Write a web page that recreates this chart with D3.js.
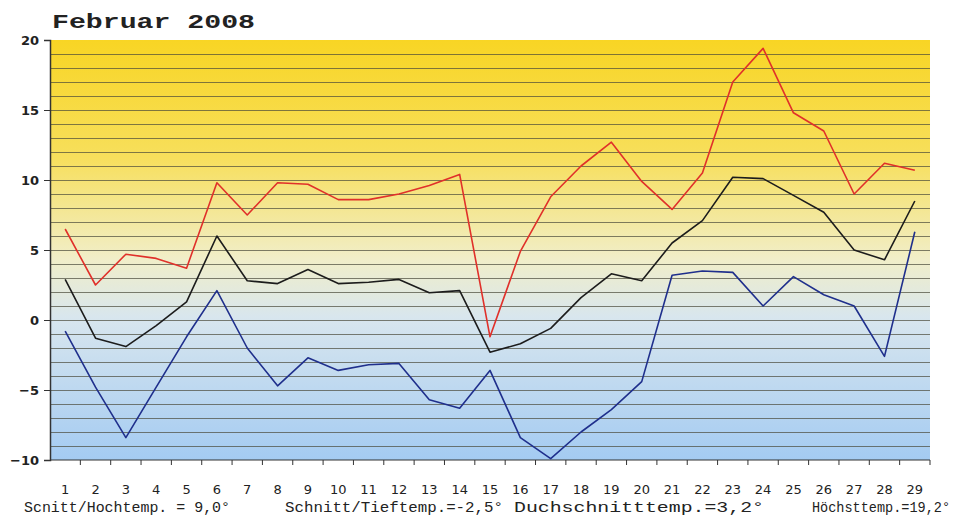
<!DOCTYPE html>
<html lang="de">
<head>
	<meta charset="utf-8">
	<title>Februar 2008</title>
	<script src="https://cdn.jsdelivr.net/npm/d3@7"></script>
	<style>
		body { margin: 0; background: #fff; }
		.grid line { stroke: #4a4a3a; stroke-opacity: 0.7; stroke-width: 1px; }
		.axis path, .axis line { stroke: #333; }
		.axis text { font-family: "DejaVu Sans", sans-serif; font-size: 13px; font-weight: bold; fill: #222; }
		.line { fill: none; stroke-width: 1.6px; stroke-linejoin: round; }
		.foot { font-family: "Liberation Mono", monospace; font-size: 14px; fill: #222; }
	</style>
</head>
<body>
	<div id="chart"></div>
	<script>
		var width = 959,
			height = 522;

		// die Daten
		var tage = d3.range(1, 30);
		var hoch = [6.5, 2.5, 4.7, 4.4, 3.7, 9.8, 7.5, 9.8, 9.7, 8.6, 8.6, 9.0, 9.6, 10.4, -1.2,
			4.9, 8.8, 11.0, 12.7, 9.9, 7.9, 10.5, 17.0, 19.4, 14.8, 13.5, 9.0, 11.2, 10.7];
		var mittel = [2.9, -1.3, -1.9, -0.4, 1.3, 6.0, 2.8, 2.6, 3.6, 2.6, 2.7, 2.9, 1.95, 2.1, -2.3,
			-1.7, -0.6, 1.6, 3.3, 2.8, 5.5, 7.1, 10.2, 10.1, 8.9, 7.7, 5.0, 4.3, 8.5];
		var tief = [-0.8, -4.8, -8.4, -4.8, -1.2, 2.1, -2.0, -4.7, -2.7, -3.6, -3.2, -3.1, -5.7, -6.3, -3.6,
			-8.4, -9.9, -8.0, -6.4, -4.4, 3.2, 3.5, 3.4, 1.0, 3.1, 1.8, 1.0, -2.6, 6.3];
		var yTicks = [-10, -5, 0, 5, 10, 15, 20];
		var fussText = ["Scnitt/Hochtemp. = 9,0°", "Schnitt/Tieftemp.=-2,5°", "Duchschnitttemp.=3,2°", "Höchsttemp.=19,2°"];

		var margin = { top: 40, right: 29, bottom: 62, left: 50 };
		var w = width - margin.left - margin.right,
			h = height - margin.top - margin.bottom;

		var svg = d3.select("#chart")
			.append("svg")
			.attr("width", width)
			.attr("height", height);

		var defs = svg.append("defs");
		var grad = defs.append("linearGradient")
			.attr("id", "bg")
			.attr("x1", 0).attr("y1", 0).attr("x2", 0).attr("y2", 1);
		grad.append("stop").attr("offset", "0%").attr("stop-color", "#f8d524");
		grad.append("stop").attr("offset", "28%").attr("stop-color", "#f7df5c");
		grad.append("stop").attr("offset", "52%").attr("stop-color", "#f1eec8");
		grad.append("stop").attr("offset", "66%").attr("stop-color", "#d8e6ee");
		grad.append("stop").attr("offset", "100%").attr("stop-color", "#a4cbf2");

		var x = d3.scaleBand().domain(tage).range([0, w]);
		var y = d3.scaleLinear().domain([-10, 20]).range([h, 0]);

		var g = svg.append("g").attr("transform", "translate(" + margin.left + "," + margin.top + ")");

		g.append("rect")
			.attr("width", w)
			.attr("height", h)
			.attr("fill", "url(#bg)");

		// Gitterlinien, jedes Grad
		g.append("g")
			.attr("class", "grid")
			.selectAll("line")
			.data(d3.range(-9, 20))
			.enter().append("line")
			.attr("x1", 0)
			.attr("x2", w)
			.attr("y1", function (d) { return y(d) + 0.5; })
			.attr("y2", function (d) { return y(d) + 0.5; });

		// y Achse
		g.append("g")
			.attr("class", "axis")
			.call(d3.axisLeft(y).tickValues(yTicks).tickSize(6).tickPadding(5))
			.call(function (s) { s.select(".domain").attr("stroke-width", 1.5); });

		// x Achse
		var xa = g.append("g")
			.attr("class", "axis")
			.attr("transform", "translate(0," + h + ")");
		xa.append("line").attr("x1", 0).attr("x2", w).attr("stroke", "#555");
		xa.selectAll(".tk")
			.data(tage)
			.enter().append("line")
			.attr("class", "tk")
			.attr("x1", function (d) { return x(d) + x.bandwidth(); })
			.attr("x2", function (d) { return x(d) + x.bandwidth(); })
			.attr("y1", 0)
			.attr("y2", 5)
			.attr("stroke", "#666");
		xa.selectAll("text")
			.data(tage)
			.enter().append("text")
			.attr("x", function (d) { return x(d) + x.bandwidth() / 2; })
			.attr("y", 34)
			.attr("text-anchor", "middle")
			.style("font-weight", "normal")
			.text(function (d) { return d; });

		var line = d3.line()
			.x(function (d, i) { return x(tage[i]) + x.bandwidth() / 2; })
			.y(function (d) { return y(d); });

		var reihen = [
			{ werte: hoch, farbe: "#e0302a" },
			{ werte: mittel, farbe: "#1c1c1c" },
			{ werte: tief, farbe: "#1f2f8c" }
		];

		g.selectAll(".line")
			.data(reihen)
			.enter().append("path")
			.attr("class", "line")
			.attr("stroke", function (d) { return d.farbe; })
			.attr("d", function (d) { return line(d.werte); });

		// Titel
		svg.append("text")
			.attr("x", 52)
			.attr("y", 28)
			.attr("textLength", 203)
			.attr("lengthAdjust", "spacingAndGlyphs")
			.style("font-family", "'Liberation Mono', monospace")
			.style("font-weight", "bold")
			.style("font-size", "21px")
			.style("fill", "#222")
			.text("Februar 2008");

		// Fusszeile
		var fussPos = [[24, 206], [285, 218], [514, 250], [812, 138]];
		svg.selectAll(".foot")
			.data(fussText)
			.enter().append("text")
			.attr("class", "foot")
			.attr("x", function (d, i) { return fussPos[i][0]; })
			.attr("y", 512)
			.attr("textLength", function (d, i) { return fussPos[i][1]; })
			.attr("lengthAdjust", "spacingAndGlyphs")
			.text(function (d) { return d; });
	</script>
</body>
</html>
